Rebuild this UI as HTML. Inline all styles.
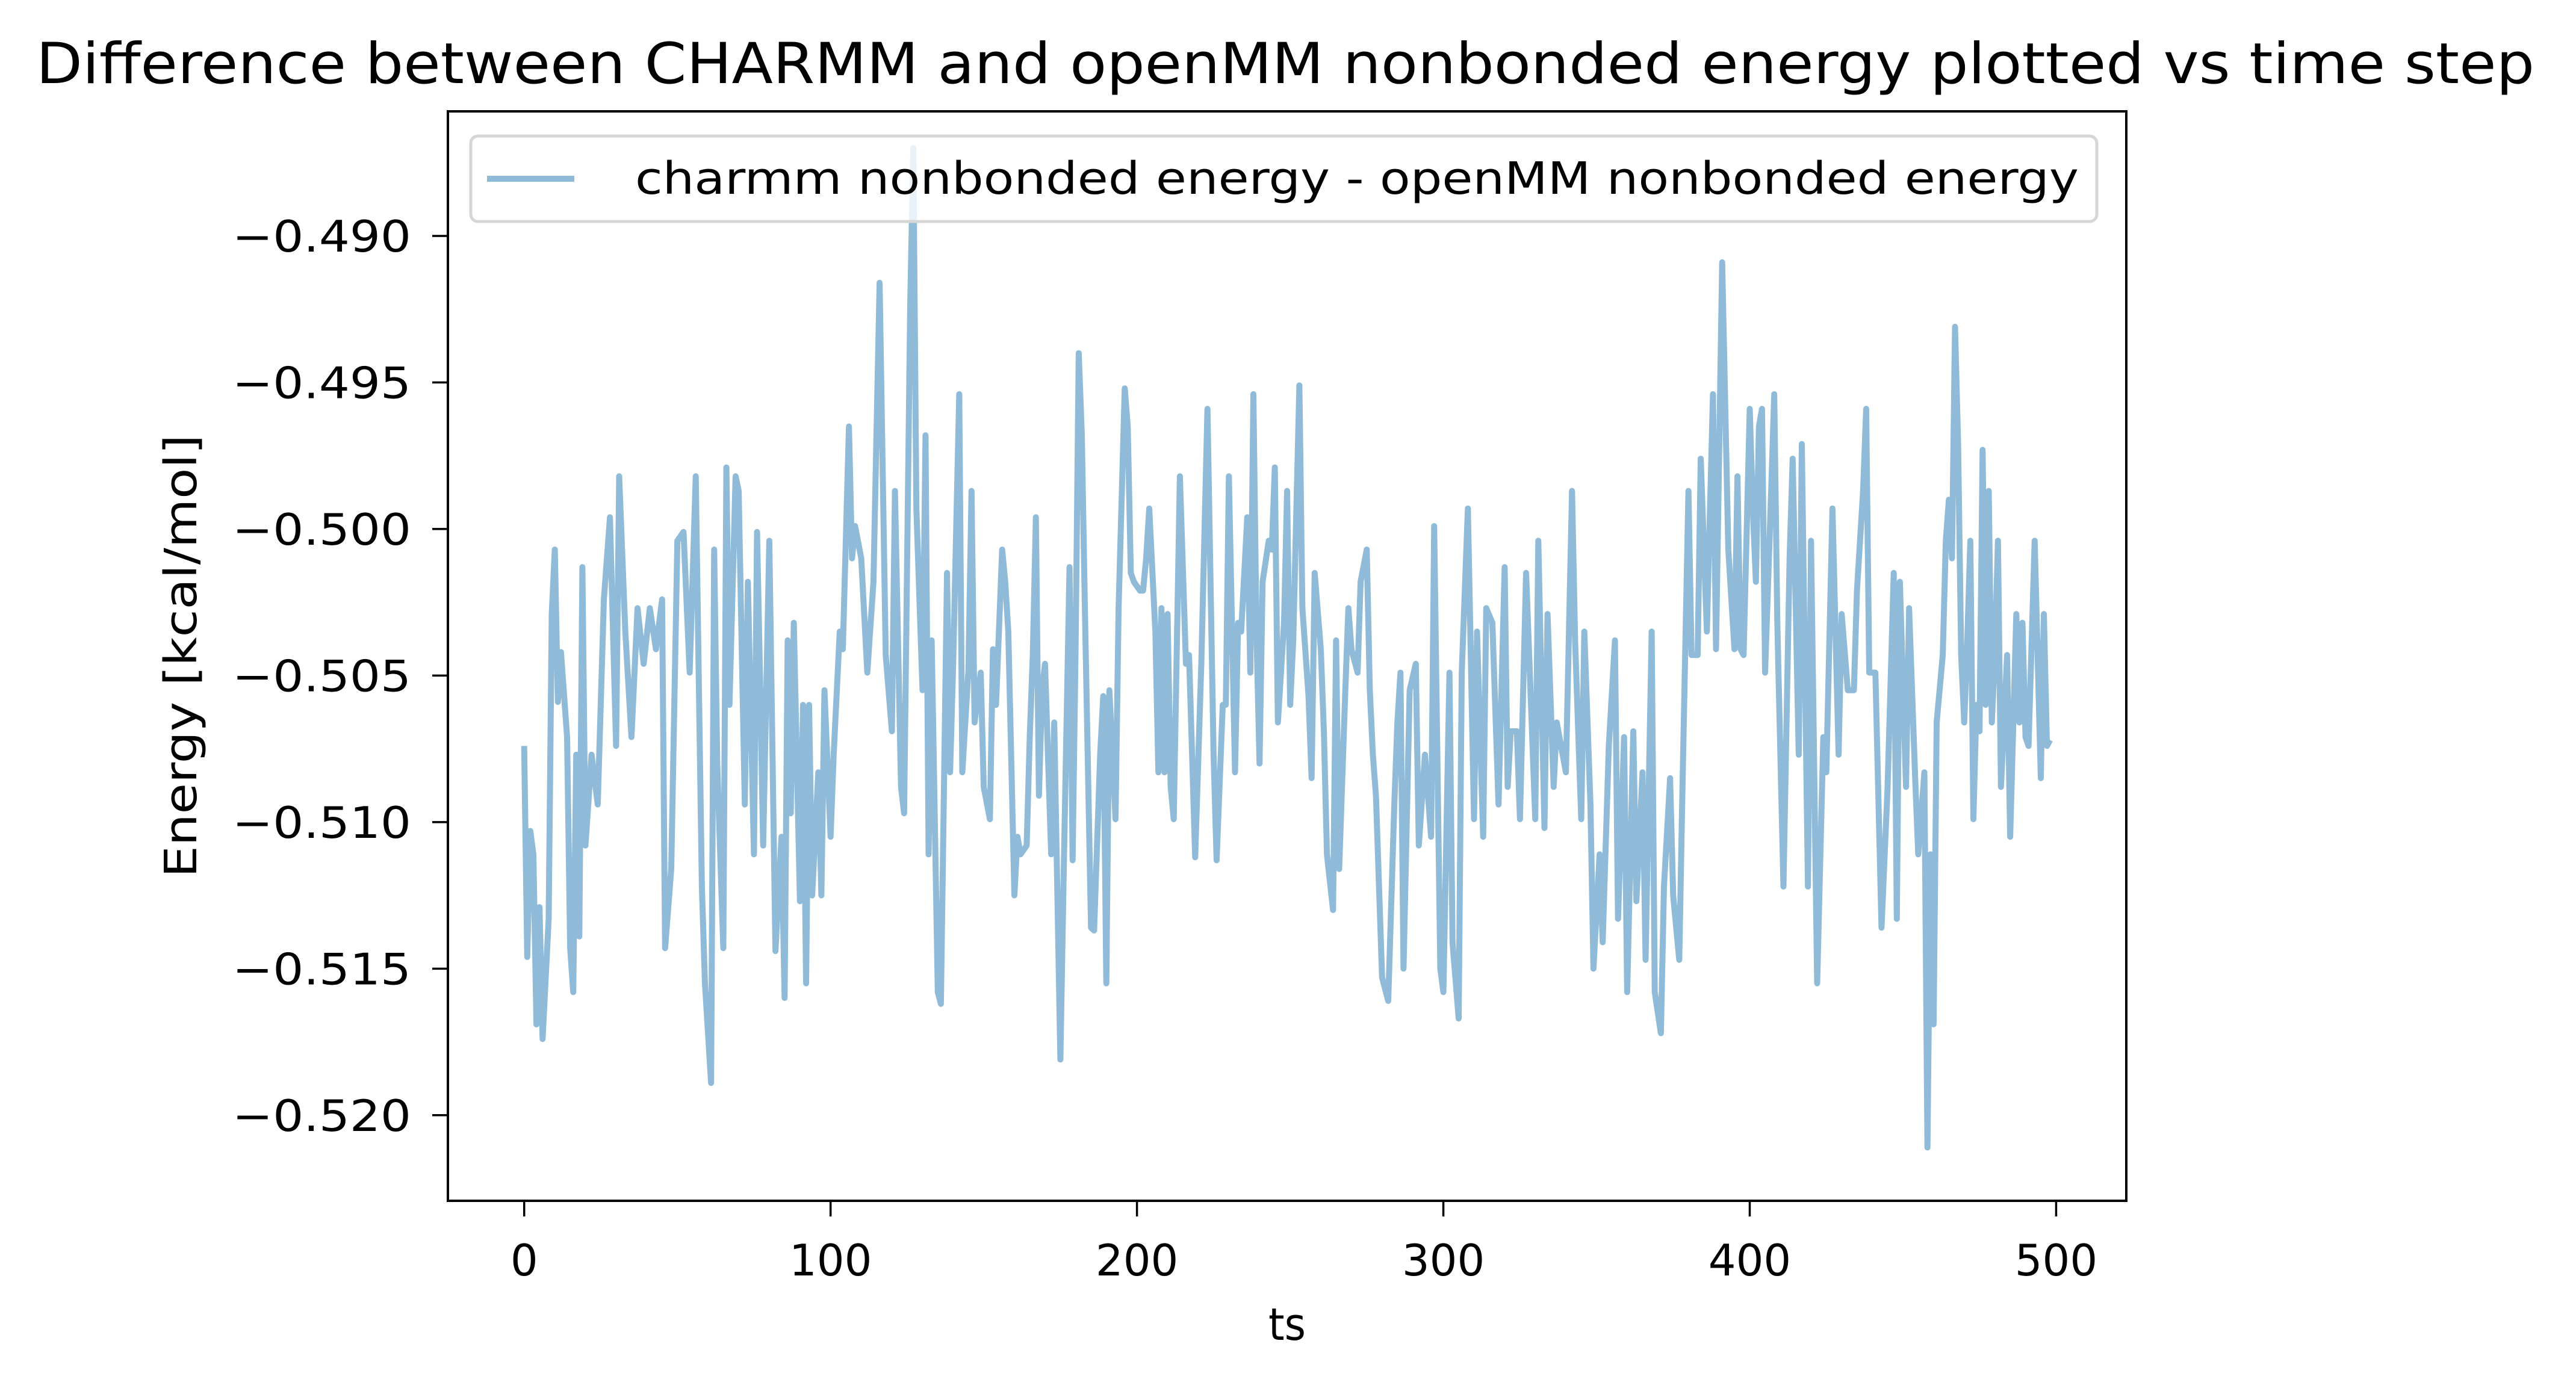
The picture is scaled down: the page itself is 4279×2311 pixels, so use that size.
<!DOCTYPE html>
<html><head><meta charset="utf-8"><style>
html,body{margin:0;padding:0;background:#fff;}
svg{display:block;}
text{font-family:"DejaVu Sans","Liberation Sans",sans-serif;fill:#000;}
</style></head><body>
<svg id="chart" width="4279" height="2311" viewBox="0 0 4279 2311" xmlns="http://www.w3.org/2000/svg">
<rect x="0" y="0" width="4279" height="2311" fill="#fff"/>
<text x="2135" y="138" text-anchor="middle" font-size="94" textLength="4150" lengthAdjust="spacingAndGlyphs">Difference between CHARMM and openMM nonbonded energy plotted vs time step</text>
<g id="series"></g>
<g id="axes"></g>
<g>
<rect x="782" y="226" width="2701" height="142" rx="12" fill="#fff" fill-opacity="0.8" stroke="#d6d6d6" stroke-width="5"/>
<line x1="809" y1="297" x2="954" y2="297" stroke="#8fbbd9" stroke-width="10"/>
<text x="1055" y="322" font-size="74" textLength="2398" lengthAdjust="spacingAndGlyphs">charmm nonbonded energy - openMM nonbonded energy</text>
</g>
<text x="2138" y="2226" text-anchor="middle" font-size="74" textLength="62" lengthAdjust="spacingAndGlyphs">ts</text>
<text x="0" y="0" text-anchor="middle" font-size="74" transform="translate(326,1090) rotate(-90)" textLength="736" lengthAdjust="spacingAndGlyphs">Energy [kcal/mol]</text>
</svg>
<script>
const ts = [0,1,2,3,4,5,6,8,9,10,11,12,14,15,16,17,18,19,20,22,24,26,28,30,31,33,35,37,39,41,43,45,46,48,50,52,54,56,58,59,61,62,63,65,66,67,69,70,72,73,75,76,77,78,80,82,84,85,86,87,88,90,91,92,93,94,96,97,98,100,101,103,104,106,107,108,110,112,114,116,118,120,121,123,124,126,127,128,130,131,132,133,135,136,138,139,140,142,143,145,146,147,149,150,152,153,154,156,157,158,160,161,162,164,165,166,167,168,169,170,172,173,175,176,178,179,180,181,182,183,185,186,188,189,190,191,193,194,196,197,198,199,201,202,203,204,206,207,208,209,210,211,212,214,216,217,218,219,221,223,225,226,228,229,230,232,233,234,236,237,238,239,240,241,243,244,245,246,248,249,250,251,253,254,256,257,258,260,261,262,264,265,266,268,269,270,272,273,275,276,277,278,280,282,284,285,286,287,289,291,292,294,296,297,299,300,302,303,305,306,308,310,311,313,314,316,318,320,321,322,324,325,327,328,330,331,333,334,336,337,340,342,343,345,346,348,349,351,352,354,356,357,359,360,362,363,365,366,368,369,371,372,374,375,377,378,380,381,383,384,386,388,389,391,393,395,396,397,398,400,401,402,403,404,405,407,408,409,411,413,414,416,417,419,420,422,424,425,427,429,430,432,434,435,437,438,439,441,443,445,447,448,449,451,452,454,455,457,458,459,460,461,463,464,465,466,467,468,469,470,471,472,473,474,475,476,477,478,479,480,481,482,484,485,487,488,489,490,491,493,495,496,497,498];
const energy = [-0.5074,-0.5146,-0.5103,-0.5111,-0.5169,-0.5129,-0.5174,-0.5133,-0.5029,-0.5007,-0.5059,-0.5042,-0.5071,-0.5143,-0.5158,-0.5077,-0.5139,-0.5013,-0.5108,-0.5077,-0.5094,-0.5024,-0.4996,-0.5074,-0.4982,-0.5035,-0.5071,-0.5027,-0.5046,-0.5027,-0.5041,-0.5024,-0.5143,-0.5116,-0.5004,-0.5001,-0.5049,-0.4982,-0.5122,-0.5155,-0.5189,-0.5007,-0.5080,-0.5143,-0.4979,-0.5060,-0.4982,-0.4987,-0.5094,-0.5018,-0.5111,-0.5001,-0.5052,-0.5108,-0.5004,-0.5144,-0.5105,-0.5160,-0.5038,-0.5097,-0.5032,-0.5127,-0.5060,-0.5155,-0.5060,-0.5125,-0.5083,-0.5125,-0.5055,-0.5105,-0.5077,-0.5035,-0.5041,-0.4965,-0.5010,-0.4999,-0.5010,-0.5049,-0.5018,-0.4916,-0.5043,-0.5069,-0.4987,-0.5088,-0.5097,-0.4923,-0.4870,-0.4993,-0.5055,-0.4968,-0.5111,-0.5038,-0.5158,-0.5162,-0.5015,-0.5083,-0.5046,-0.4954,-0.5083,-0.5048,-0.4987,-0.5066,-0.5049,-0.5088,-0.5099,-0.5041,-0.5060,-0.5007,-0.5018,-0.5035,-0.5125,-0.5105,-0.5111,-0.5108,-0.5071,-0.5043,-0.4996,-0.5091,-0.5055,-0.5046,-0.5111,-0.5066,-0.5181,-0.5122,-0.5013,-0.5113,-0.5038,-0.4940,-0.4968,-0.5027,-0.5136,-0.5137,-0.5077,-0.5057,-0.5155,-0.5055,-0.5099,-0.5027,-0.4952,-0.4965,-0.5015,-0.5018,-0.5021,-0.5021,-0.5010,-0.4993,-0.5035,-0.5083,-0.5027,-0.5083,-0.5029,-0.5088,-0.5099,-0.4982,-0.5046,-0.5043,-0.5077,-0.5112,-0.5046,-0.4959,-0.5077,-0.5113,-0.5060,-0.5060,-0.4982,-0.5083,-0.5032,-0.5035,-0.4996,-0.5049,-0.4954,-0.5035,-0.5080,-0.5018,-0.5004,-0.5007,-0.4979,-0.5066,-0.5032,-0.4987,-0.5060,-0.5038,-0.4951,-0.5027,-0.5057,-0.5085,-0.5015,-0.5041,-0.5069,-0.5111,-0.5130,-0.5038,-0.5116,-0.5055,-0.5027,-0.5041,-0.5049,-0.5018,-0.5007,-0.5055,-0.5077,-0.5091,-0.5153,-0.5161,-0.5094,-0.5066,-0.5049,-0.5150,-0.5055,-0.5046,-0.5108,-0.5077,-0.5105,-0.4999,-0.5150,-0.5158,-0.5049,-0.5141,-0.5167,-0.5049,-0.4993,-0.5099,-0.5035,-0.5105,-0.5027,-0.5032,-0.5094,-0.5013,-0.5088,-0.5069,-0.5069,-0.5099,-0.5015,-0.5043,-0.5099,-0.5004,-0.5102,-0.5029,-0.5088,-0.5066,-0.5083,-0.4987,-0.5038,-0.5099,-0.5035,-0.5094,-0.5150,-0.5111,-0.5141,-0.5074,-0.5038,-0.5133,-0.5071,-0.5158,-0.5069,-0.5127,-0.5083,-0.5147,-0.5035,-0.5158,-0.5172,-0.5122,-0.5085,-0.5125,-0.5147,-0.5091,-0.4987,-0.5043,-0.5043,-0.4976,-0.5035,-0.4954,-0.5041,-0.4909,-0.5007,-0.5041,-0.4982,-0.5041,-0.5043,-0.4959,-0.4993,-0.5018,-0.4965,-0.4959,-0.5049,-0.4987,-0.4954,-0.5032,-0.5122,-0.5010,-0.4976,-0.5077,-0.4971,-0.5122,-0.5004,-0.5155,-0.5071,-0.5083,-0.4993,-0.5077,-0.5029,-0.5055,-0.5055,-0.5021,-0.4987,-0.4959,-0.5049,-0.5049,-0.5136,-0.5088,-0.5015,-0.5133,-0.5018,-0.5088,-0.5027,-0.5085,-0.5111,-0.5083,-0.5211,-0.5111,-0.5169,-0.5066,-0.5043,-0.5004,-0.4990,-0.5010,-0.4931,-0.4971,-0.5043,-0.5066,-0.5038,-0.5004,-0.5099,-0.5060,-0.5069,-0.4973,-0.5060,-0.4987,-0.5066,-0.5043,-0.5004,-0.5088,-0.5043,-0.5105,-0.5029,-0.5066,-0.5032,-0.5071,-0.5074,-0.5004,-0.5085,-0.5029,-0.5074,-0.5072];
const xTicks = [0,100,200,300,400,500];
const yTicks = [-0.490,-0.495,-0.500,-0.505,-0.510,-0.515,-0.520];
const yTickLabels = ["\u22120.490","\u22120.495","\u22120.500","\u22120.505","\u22120.510","\u22120.515","\u22120.520"];

const AX = {left:744, right:3532, top:185, bottom:1995};
const xMin = -24.9, xMax = 522.9;
const yMin = -0.52292, yMax = -0.48575;
function X(t){ return AX.left + (t - xMin) / (xMax - xMin) * (AX.right - AX.left); }
function Y(v){ return AX.bottom - (v - yMin) / (yMax - yMin) * (AX.bottom - AX.top); }
const NS = "http://www.w3.org/2000/svg";
const svg = document.getElementById('chart');
const series = document.getElementById('series');
const axes = document.getElementById('axes');

const clip = document.createElementNS(NS,'clipPath');
clip.setAttribute('id','plotclip');
const cr = document.createElementNS(NS,'rect');
cr.setAttribute('x',AX.left); cr.setAttribute('y',AX.top);
cr.setAttribute('width',AX.right-AX.left); cr.setAttribute('height',AX.bottom-AX.top);
clip.appendChild(cr); svg.insertBefore(clip, svg.firstChild);

let d = '';
for (let i=0;i<ts.length;i++){ d += (i?'L':'M') + X(ts[i]).toFixed(1) + ' ' + Y(energy[i]).toFixed(1); }
const path = document.createElementNS(NS,'path');


path.setAttribute('d', d);
path.setAttribute('fill','none');
path.setAttribute('stroke','#8fbbd9');
path.setAttribute('stroke-width','10');
path.setAttribute('stroke-linejoin','round');
path.setAttribute('clip-path','url(#plotclip)');
series.appendChild(path);

const frame = document.createElementNS(NS,'rect');


frame.setAttribute('x',AX.left); frame.setAttribute('y',AX.top);
frame.setAttribute('width',AX.right-AX.left); frame.setAttribute('height',AX.bottom-AX.top);
frame.setAttribute('fill','none'); frame.setAttribute('stroke','#000'); frame.setAttribute('stroke-width','4');
axes.appendChild(frame);

xTicks.forEach(function(t){
  const x = X(t);
  const ln = document.createElementNS(NS,'line');
  
  
  ln.setAttribute('x1',x); ln.setAttribute('x2',x);
  ln.setAttribute('y1',AX.bottom); ln.setAttribute('y2',AX.bottom+26);
  ln.setAttribute('stroke','#000'); ln.setAttribute('stroke-width','3.5');
  axes.appendChild(ln);
  const tx = document.createElementNS(NS,'text');
  
  
  tx.setAttribute('x',x); tx.setAttribute('y',AX.bottom+124);
  tx.setAttribute('text-anchor','middle'); tx.setAttribute('font-size','72');
  tx.textContent = String(t);
  axes.appendChild(tx);
});
yTicks.forEach(function(v,i){
  const y = Y(v);
  const ln = document.createElementNS(NS,'line');
  
  
  ln.setAttribute('x1',AX.left-26); ln.setAttribute('x2',AX.left);
  ln.setAttribute('y1',y); ln.setAttribute('y2',y);
  ln.setAttribute('stroke','#000'); ln.setAttribute('stroke-width','3.5');
  axes.appendChild(ln);
  const tx = document.createElementNS(NS,'text');
  
  
  tx.setAttribute('x',683); tx.setAttribute('y',y+26);
  tx.setAttribute('text-anchor','end'); tx.setAttribute('font-size','72');
  tx.setAttribute('textLength','297'); tx.setAttribute('lengthAdjust','spacingAndGlyphs');
  tx.textContent = yTickLabels[i];
  axes.appendChild(tx);
});
</script>
</body></html>
